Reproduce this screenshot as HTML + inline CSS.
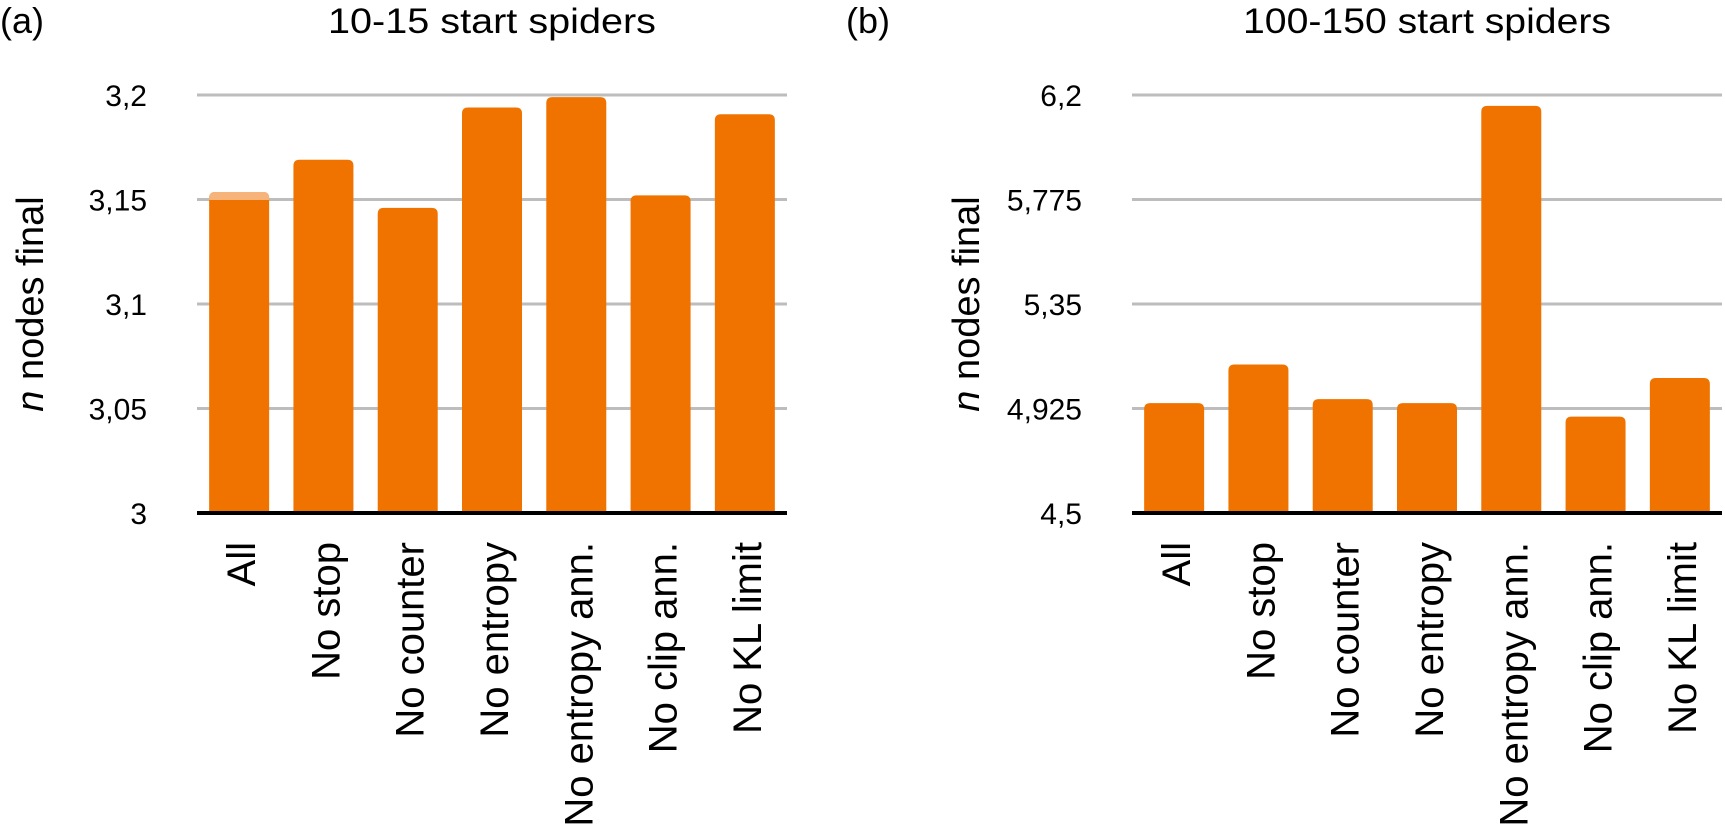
<!DOCTYPE html>
<html><head><meta charset="utf-8"><style>
html,body{margin:0;padding:0;background:#fff;}
svg{display:block;font-family:"Liberation Sans",sans-serif;}
</style></head><body>
<svg id="c" width="1725" height="837" viewBox="0 0 1725 837">
<text x="0" y="33" font-size="36">(a)</text>
<text x="328" y="33" font-size="35" textLength="328" lengthAdjust="spacingAndGlyphs">10-15 start spiders</text>
<text x="846" y="33" font-size="36">(b)</text>
<text x="1243" y="33" font-size="35" textLength="368" lengthAdjust="spacingAndGlyphs">100-150 start spiders</text>
<text transform="translate(43,304) rotate(-90)" font-size="38" text-anchor="middle"><tspan font-style="italic">n</tspan> nodes final</text>
<text transform="translate(979,304) rotate(-90)" font-size="38" text-anchor="middle"><tspan font-style="italic">n</tspan> nodes final</text>
</svg>
<script>
const categories = ["All","No stop","No counter","No entropy","No entropy ann.","No clip ann.","No KL limit"];
const valuesA = [3.1536,3.169,3.146,3.194,3.199,3.152,3.1908];
const valuesB = [4.947,5.104,4.963,4.947,6.156,4.892,5.049];
const ticksA = [3,3.05,3.1,3.15,3.2];
const tickLabelsA = ["3","3,05","3,1","3,15","3,2"];
const ticksB = [4.5,4.925,5.35,5.775,6.2];
const tickLabelsB = ["4,5","4,925","5,35","5,775","6,2"];

const svg = document.getElementById('c');
const NS = 'http://www.w3.org/2000/svg';
function mk(tag, attrs){const e=document.createElementNS(NS,tag);for(const k in attrs)e.setAttribute(k,attrs[k]);svg.appendChild(e);return e;}

function panel(id, left, vals, ticks, labels, highlightFirst){
  const right = left + 590, top = 95, bottom = 513;
  const min = ticks[0], max = ticks[ticks.length-1];
  const y = v => bottom - (v - min) / (max - min) * (bottom - top);
  const band = (right - left) / categories.length;
  const bw = 60;
  const x = i => left + i * band + (band - bw) / 2;
  ticks.forEach((t, i) => {
    if (i > 0) {
      const g = mk('line', {x1: left, x2: right, y1: y(t), y2: y(t), stroke: '#bdbdbd', 'stroke-width': 3});
      
      
    }
    const tl = mk('text', {x: left - 50, y: y(t) + 11, 'font-size': 30, 'text-anchor': 'end'});
    tl.textContent = labels[i];
    
    
  });
  vals.forEach((v, i) => {
    const yt = y(v), r = 6, x0 = x(i);
    const d = `M${x0},${bottom} V${yt + r} Q${x0},${yt} ${x0 + r},${yt} H${x0 + bw - r} Q${x0 + bw},${yt} ${x0 + bw},${yt + r} V${bottom} Z`;
    const b = mk('path', {d: d, fill: '#f07300'});
    
    
    if (highlightFirst && i === 0) {
      const hl = mk('path', {d: `M${x0},${yt + 8} V${yt + r} Q${x0},${yt} ${x0 + r},${yt} H${x0 + bw - r} Q${x0 + bw},${yt} ${x0 + bw},${yt + r} V${yt + 8} Z`, fill: '#f6b47a'});
      
      
    }
    const cx = x0 + bw / 2;
    const lab = mk('text', {transform: `translate(${cx + 16},542) rotate(-90)`, 'font-size': 40, 'text-anchor': 'end'});
    lab.textContent = categories[i];
    
    
  });
  const ax = mk('line', {x1: left, x2: right, y1: bottom, y2: bottom, stroke: '#000', 'stroke-width': 4});
  
  
}
panel('panel-a', 197, valuesA, ticksA, tickLabelsA, true);
panel('panel-b', 1132, valuesB, ticksB, tickLabelsB, false);
</script>
</body></html>
